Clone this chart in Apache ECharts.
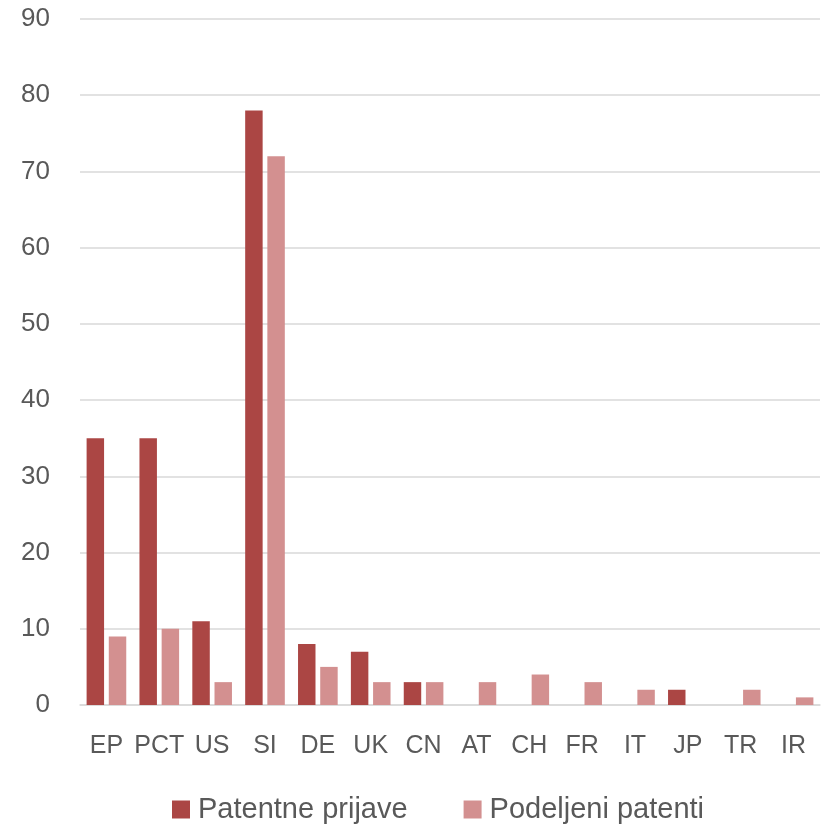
<!DOCTYPE html>
<html><head><meta charset="utf-8">
<script src="https://cdn.jsdelivr.net/npm/echarts@6/dist/echarts.min.js"></script>
<style>html,body{margin:0;padding:0;background:#fff}#c{width:825px;height:826px}</style>
</head><body><div id="c"></div>
<script>
const categories = ['EP','PCT','US','SI','DE','UK','CN','AT','CH','FR','IT','JP','TR','IR'];
const prijave = [35,35,11,78,8,7,3,0,0,0,0,2,0,0];
const podeljeni = [9,10,3,72,5,3,3,3,4,3,2,0,2,1];
const yTicks = [0,10,20,30,40,50,60,70,80,90];

const chart = echarts.init(document.getElementById('c'));
const font = 'Liberation Sans, Arial, sans-serif';
chart.setOption({
  animation:false,
  textStyle:{fontFamily:font},
  grid:{left:80,right:5,top:19,bottom:121,containLabel:false},
  legend:{top:790,left:167,itemWidth:18,itemHeight:18,itemGap:56,icon:'rect',
    textStyle:{fontSize:29,color:'#595959',fontFamily:font,padding:[0,0,0,3]},
    data:['Patentne prijave','Podeljeni patenti']},
  xAxis:{type:'category',data:categories,
    axisLine:{lineStyle:{color:'#d9d9d9',width:1.5}},axisTick:{show:false},
    axisLabel:{fontSize:25,color:'#595959',margin:29,interval:0,fontFamily:font}},
  yAxis:{type:'value',min:yTicks[0],max:yTicks[yTicks.length-1],interval:10,
    axisLine:{show:false},axisTick:{show:false},
    splitLine:{lineStyle:{color:'#d9d9d9',width:1.5}},
    axisLabel:{fontSize:26,color:'#595959',margin:30,fontFamily:font}},
  series:[
    {name:'Patentne prijave',type:'bar',data:prijave,barGap:'27%',barCategoryGap:'25%',
      itemStyle:{color:'#AB4644'}},
    {name:'Podeljeni patenti',type:'bar',data:podeljeni,
      itemStyle:{color:'#D39090'}}
  ]
});
</script></body></html>
